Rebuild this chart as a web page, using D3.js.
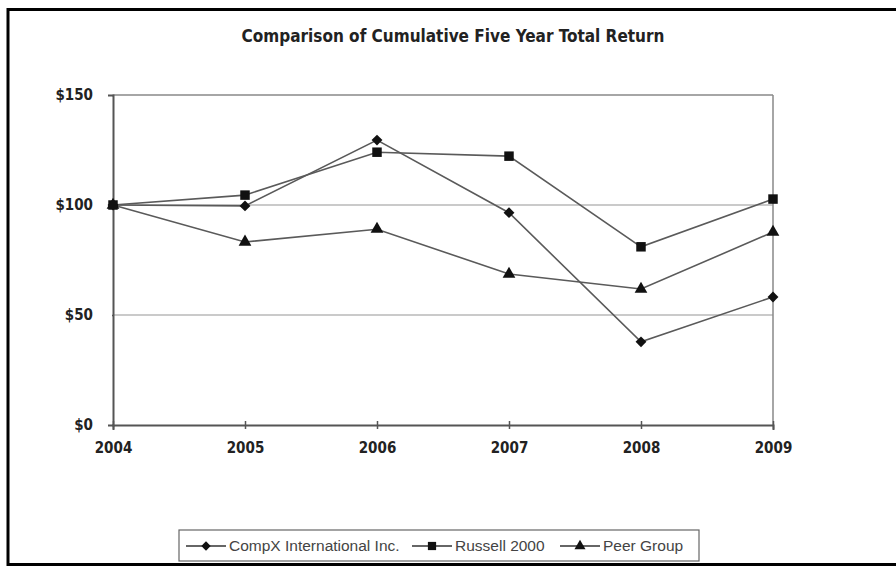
<!DOCTYPE html>
<html>
<head>
<meta charset="utf-8">
<script src="https://cdn.jsdelivr.net/npm/d3@7"></script>
<style>
  body { margin: 0; background: #fff; }
</style>
</head>
<body>
<div id="chart"></div>
<script>
// data
var years = ['2004', '2005', '2006', '2007', '2008', '2009'];
var compx = [100, 99.6, 129.5, 96.5, 37.8, 58.2];
var russell = [100, 104.5, 124, 122.2, 81, 102.7];
var peer = [100, 83.2, 89, 68.6, 61.8, 87.7];
var yTicks = [0, 50, 100, 150];
var seriesNames = ['CompX International Inc.', 'Russell 2000', 'Peer Group'];

var W = 896, H = 567;
var margin = {top: 95, right: 123, bottom: 142, left: 113},
    width = W - margin.left - margin.right,
    height = H - margin.top - margin.bottom;

var boldFont = '"DejaVu Sans Condensed", "Liberation Sans Narrow", sans-serif';

var root = d3.select('#chart')
  .append('svg')
    .attr('width', W)
    .attr('height', H);

// outer frame
root.append('rect')
  .attr('x', 8).attr('y', 9.5)
  .attr('width', 900).attr('height', 555)
  .attr('fill', '#fff')
  .attr('stroke', '#000')
  .attr('stroke-width', 3);

// title
root.append('text')
  .attr('x', 453)
  .attr('y', 42)
  .attr('text-anchor', 'middle')
  .style('font-family', boldFont)
  .style('font-weight', 'bold')
  .style('font-size', '17px')
  .attr('fill', '#222')
  .text('Comparison of Cumulative Five Year Total Return');

var svg = root.append('g')
  .attr('transform', 'translate(' + margin.left + ',' + margin.top + ')');

var x = d3.scalePoint()
  .domain(years)
  .range([0, width]);

var y = d3.scaleLinear()
  .domain([0, 150])
  .range([height, 0]);

// gridlines
svg.selectAll('.grid')
  .data([50, 100])
  .enter()
  .append('line')
    .attr('x1', 0).attr('x2', width)
    .attr('y1', function(d) { return y(d); })
    .attr('y2', function(d) { return y(d); })
    .attr('stroke', '#b8b8b8')
    .attr('stroke-width', 1.5);

// plot border top and right
svg.append('line')
  .attr('x1', 0).attr('x2', width).attr('y1', 0).attr('y2', 0)
  .attr('stroke', '#888').attr('stroke-width', 1.5);
svg.append('line')
  .attr('x1', width).attr('x2', width).attr('y1', 0).attr('y2', height)
  .attr('stroke', '#888').attr('stroke-width', 1.5);

// axes
var xAxis = svg.append('g')
  .attr('transform', 'translate(0,' + height + ')')
  .call(d3.axisBottom(x).tickSize(5).tickPadding(12));
var yAxis = svg.append('g')
  .call(d3.axisLeft(y).tickValues(yTicks).tickSize(5).tickPadding(15)
    .tickFormat(function(d) { return '$' + d; }));

[xAxis, yAxis].forEach(function(a) {
  a.select('.domain').attr('stroke', '#555').attr('stroke-width', 2);
  a.selectAll('.tick line').attr('stroke', '#555').attr('stroke-width', 1.5);
  a.selectAll('text')
    .attr('fill', '#222')
    .style('font-family', boldFont)
    .style('font-weight', 'bold')
    .style('font-size', '15px');
});
xAxis.selectAll('.tick line').attr('y1', -4).attr('y2', 4);
yAxis.selectAll('.tick line').attr('x2', -1);

// lines and markers
var allSeries = [
  {name: seriesNames[0], values: compx, shape: d3.symbolDiamond2, size: 75},
  {name: seriesNames[1], values: russell, shape: d3.symbolSquare, size: 90},
  {name: seriesNames[2], values: peer, shape: d3.symbolTriangle, size: 70}
];

var line = d3.line()
  .x(function(d, i) { return x(years[i]); })
  .y(function(d) { return y(d); });

allSeries.forEach(function(s) {
  svg.append('path')
    .datum(s.values)
    .attr('d', line)
    .attr('fill', 'none')
    .attr('stroke', '#5a5a5a')
    .attr('stroke-width', 1.6);
});

allSeries.forEach(function(s) {
  svg.selectAll('mark')
    .data(s.values)
    .enter()
    .append('path')
      .attr('d', d3.symbol().type(s.shape).size(s.size))
      .attr('transform', function(d, i) {
        return 'translate(' + x(years[i]) + ',' + y(d) + ')';
      })
      .attr('fill', '#111');
});

// legend
var lg = root.append('g').attr('transform', 'translate(179,530)');
lg.append('rect')
  .attr('width', 520).attr('height', 31)
  .attr('fill', '#fff')
  .attr('stroke', '#666')
  .attr('stroke-width', 1.2);

var legendX = [7, 233, 381];
allSeries.forEach(function(s, i) {
  var g = lg.append('g').attr('transform', 'translate(' + legendX[i] + ',16)');
  g.append('line')
    .attr('x1', 0).attr('x2', 40)
    .attr('stroke', '#333').attr('stroke-width', 1.3);
  g.append('path')
    .attr('d', d3.symbol().type(s.shape).size(s.size * 0.75))
    .attr('transform', 'translate(20,0)')
    .attr('fill', '#111');
  g.append('text')
    .attr('x', 43)
    .attr('y', 5)
    .style('font-family', '"Liberation Sans", Arial, sans-serif')
    .style('font-size', '15.5px')
    .attr('fill', '#444')
    .text(s.name);
});
</script>
</body>
</html>
